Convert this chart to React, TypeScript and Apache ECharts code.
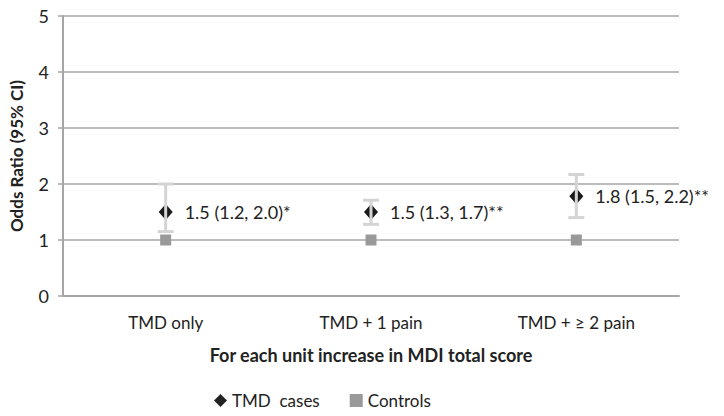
import React, { useEffect, useRef } from "react";
import * as echarts from "echarts";

const categories = ["TMD only", "TMD + 1 pain", "TMD + \u2265 2 pain"];
const caseOR = [1.5, 1.5, 1.78];
const caseLow = [1.15, 1.28, 1.4];
const caseHigh = [2.0, 1.71, 2.17];
const controlOR = [1, 1, 1];
const caseLabels = ["1.5 (1.2, 2.0)*", "1.5 (1.3, 1.7)**", "1.8 (1.5, 2.2)**"];
const yTicks = [0, 1, 2, 3, 4, 5];

const FONT = "Lato, 'Open Sans', sans-serif";

export default function App() {
  const ref = useRef<HTMLDivElement>(null);
  useEffect(() => {
    document.body.style.margin = "0";
    if (!ref.current) return;
    const chart = echarts.init(ref.current, null, { renderer: "svg" });
    chart.setOption({
      animation: false,
      textStyle: { fontFamily: FONT },
      grid: { left: 62, right: 45, top: 16, bottom: 120 },
      legend: {
        left: 214,
        top: 392,
        padding: 0,
        itemWidth: 13,
        itemHeight: 13,
        itemGap: 30,
        textStyle: { fontFamily: FONT, fontSize: 17, color: "#222" },
        data: [
          { name: "TMD  cases", icon: "diamond", itemStyle: { color: "#222" } },
          { name: "Controls", icon: "rect", itemStyle: { color: "#999" } },
        ],
      },
      xAxis: {
        type: "category",
        data: categories,
        boundaryGap: true,
        axisLine: { show: true, lineStyle: { color: "#a6a6a6", width: 2 } },
        axisTick: { show: false },
        axisLabel: { fontFamily: FONT, fontSize: 17, color: "#222", margin: 18 },
        name: "For each unit increase in MDI total score",
        nameLocation: "middle",
        nameGap: 50,
        nameTextStyle: { fontFamily: FONT, fontSize: 18, fontWeight: "bold", color: "#222" },
      },
      yAxis: {
        type: "value",
        min: yTicks[0],
        max: yTicks[yTicks.length - 1],
        interval: 1,
        axisLine: { show: true, lineStyle: { color: "#a6a6a6", width: 2 } },
        axisTick: { show: true, length: 5, lineStyle: { color: "#a6a6a6", width: 1.5 } },
        splitLine: { show: true, lineStyle: { color: "#a6a6a6", width: 1.5 } },
        axisLabel: { fontFamily: FONT, fontSize: 18, color: "#222", margin: 14 },
        name: "Odds Ratio (95% CI)",
        nameLocation: "middle",
        nameGap: 38,
        nameRotate: 90,
        nameTextStyle: { fontFamily: FONT, fontSize: 17, fontWeight: "bold", color: "#222" },
      },
      series: [
        {
          name: "Controls",
          type: "scatter",
          symbol: "rect",
          symbolSize: 11,
          itemStyle: { color: "#999", opacity: 1 },
          data: controlOR,
          z: 3,
        },
        {
          name: "TMD  cases",
          type: "scatter",
          symbol: "diamond",
          symbolSize: [14, 16],
          itemStyle: { color: "#1a1a1a", opacity: 1 },
          data: caseOR,
          z: 4,
          label: {
            show: true,
            position: "right",
            distance: 12,
            fontFamily: FONT,
            fontSize: 18,
            color: "#222",
            formatter: (p: any) => caseLabels[p.dataIndex],
          },
        },
        {
          name: "CI",
          type: "custom",
          z: 5,
          data: categories.map((_, i) => [i, caseLow[i], caseHigh[i]]),
          renderItem: (params: any, api: any) => {
            const x = api.value(0);
            const lo = api.coord([x, api.value(1)]);
            const hi = api.coord([x, api.value(2)]);
            const half = 8;
            const style = { stroke: "#d4d4d4", lineWidth: 3 };
            return {
              type: "group",
              children: [
                { type: "line", shape: { x1: lo[0], y1: lo[1], x2: hi[0], y2: hi[1] }, style },
                { type: "line", shape: { x1: hi[0] - half, y1: hi[1], x2: hi[0] + half, y2: hi[1] }, style },
                { type: "line", shape: { x1: lo[0] - half, y1: lo[1], x2: lo[0] + half, y2: lo[1] }, style },
              ],
            };
          },
        },
      ],
    });
    return () => chart.dispose();
  }, []);
  return <div ref={ref} style={{ width: 724, height: 416 }} />;
}
